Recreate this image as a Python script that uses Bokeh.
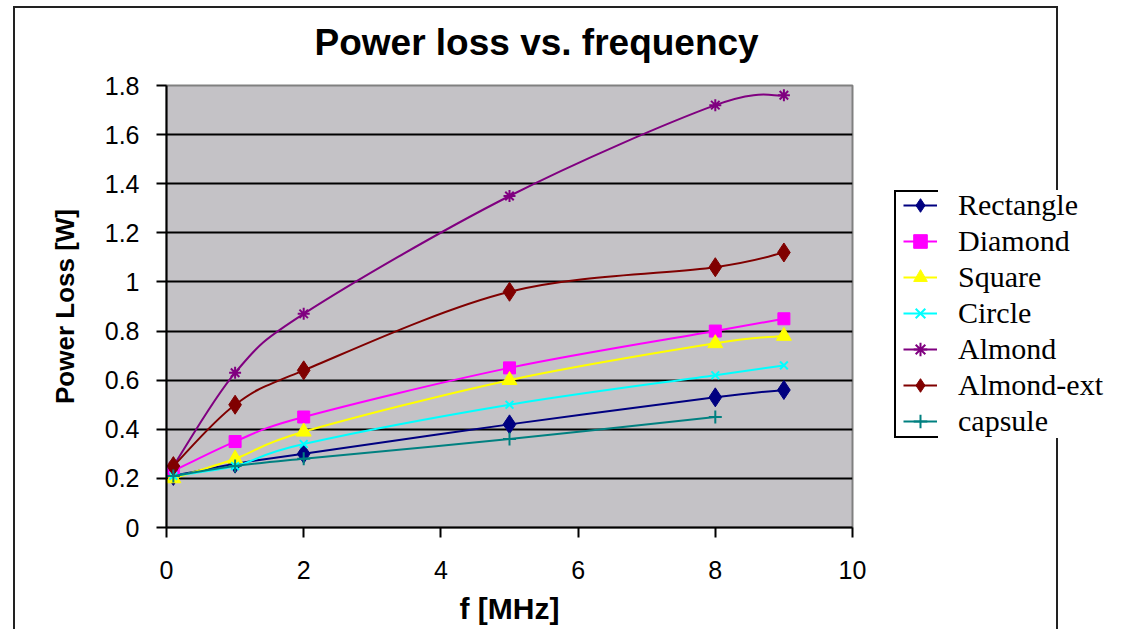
from bokeh.plotting import figure
from bokeh.models import (Range1d, FixedTicker, Legend, LegendItem,
                          ColumnDataSource, InlineStyleSheet)
from bokeh.embed import file_html
from bokeh.resources import INLINE

# ---- data ---------------------------------------------------------------
freq = [0.1, 1, 2, 5, 8, 9]
freq_capsule = [0.1, 1, 2, 5, 8]

rectangle = [0.21, 0.26, 0.30, 0.42, 0.53, 0.56]
diamond = [0.23, 0.35, 0.45, 0.65, 0.80, 0.85]
square = [0.20, 0.28, 0.39, 0.60, 0.75, 0.78]
circle = [0.21, 0.25, 0.34, 0.50, 0.62, 0.66]
almond = [0.25, 0.63, 0.87, 1.35, 1.72, 1.76]
almond_ext = [0.25, 0.50, 0.64, 0.96, 1.06, 1.12]
capsule = [0.21, 0.25, 0.28, 0.36, 0.45]

series_names = ["Rectangle", "Diamond", "Square", "Circle", "Almond",
                "Almond-ext", "capsule"]

xticks = [0, 2, 4, 6, 8, 10]
xtick_labels = ["0", "2", "4", "6", "8", "10"]
yticks = [0, 0.2, 0.4, 0.6, 0.8, 1.0, 1.2, 1.4, 1.6, 1.8]
ytick_labels = ["0", "0.2", "0.4", "0.6", "0.8", "1", "1.2", "1.4", "1.6", "1.8"]

# ---- styling per series ---------------------------------------------------
styles = [
    (freq, rectangle, "#000080", "diamond", 19),
    (freq, diamond, "#ff00ff", "square", 12),
    (freq, square, "#ffff00", "triangle", 15),
    (freq, circle, "#00ffff", "x", 11),
    (freq, almond, "#800080", "asterisk", 12),
    (freq, almond_ext, "#800000", "diamond", 19),
    (freq_capsule, capsule, "#008080", "cross", 13),
]


def smooth_segments(xs, ys):
    """Cubic Bezier segments through the points (Catmull-Rom style)."""
    n = len(xs)
    out = dict(x0=[], y0=[], x1=[], y1=[], cx0=[], cy0=[], cx1=[], cy1=[])
    for i in range(n - 1):
        a = i - 1 if i > 0 else i
        b = i + 2 if i + 2 < n else i + 1
        out["x0"].append(xs[i])
        out["y0"].append(ys[i])
        out["x1"].append(xs[i + 1])
        out["y1"].append(ys[i + 1])
        out["cx0"].append(xs[i] + (xs[i + 1] - xs[a]) / 6.0)
        out["cy0"].append(ys[i] + (ys[i + 1] - ys[a]) / 6.0)
        out["cx1"].append(xs[i + 1] - (xs[b] - xs[i]) / 6.0)
        out["cy1"].append(ys[i + 1] - (ys[b] - ys[i]) / 6.0)
    return out


SANS = "Liberation Sans"
SERIF = "Liberation Serif"

p = figure(frame_width=686, frame_height=442,
           x_range=Range1d(0, 10), y_range=Range1d(0, 1.8),
           output_backend="svg", toolbar_location=None,
           min_border_left=166, min_border_right=278,
           min_border_top=85, min_border_bottom=102)

p.background_fill_color = "#c4c2c6"
p.border_fill_color = "white"
p.outline_line_color = "#808080"
p.outline_line_width = 2

# title
p.title.text = "Power loss vs. frequency"
p.title.text_font = SANS
p.title.text_font_style = "bold"
p.title.text_font_size = "37px"
p.title.text_color = "black"
p.title.align = "left"
p.title.offset = 148
p.title.vertical_align = "top"
p.title.standoff = 42

# grid
p.xgrid.visible = False
p.ygrid.ticker = FixedTicker(ticks=yticks[1:-1])
p.ygrid.grid_line_color = "black"
p.ygrid.grid_line_width = 2

# axes
for ax in (p.xaxis[0], p.yaxis[0]):
    ax.axis_line_color = "black"
    ax.axis_line_width = 2
    ax.major_tick_line_color = "black"
    ax.major_tick_line_width = 2
    ax.major_tick_out = 10
    ax.major_tick_in = 0
    ax.minor_tick_line_color = None
    ax.major_label_text_font = SANS
    ax.major_label_text_font_size = "25px"
    ax.major_label_text_color = "black"
    ax.axis_label_text_font = SANS
    ax.axis_label_text_font_style = "bold"
    ax.axis_label_text_color = "black"

p.xaxis.ticker = FixedTicker(ticks=xticks)
p.xaxis.major_label_overrides = dict(zip(xticks, xtick_labels))
p.yaxis.ticker = FixedTicker(ticks=yticks)
p.yaxis.major_label_overrides = dict(zip(yticks, ytick_labels))
p.xaxis.axis_label = "f [MHz]"
p.yaxis.axis_label = "Power Loss [W]"
p.xaxis.axis_label_text_font_size = "30px"
p.yaxis.axis_label_text_font_size = "26px"
p.xaxis.major_label_standoff = 23
p.yaxis.major_label_standoff = 17
p.xaxis.axis_label_standoff = 10
p.yaxis.axis_label_standoff = 22

# series
items = []
for name, (xs, ys, color, marker, size) in zip(series_names, styles):
    seg = ColumnDataSource(smooth_segments(xs, ys))
    r_line = p.bezier(x0="x0", y0="y0", x1="x1", y1="y1",
                      cx0="cx0", cy0="cy0", cx1="cx1", cy1="cy1",
                      source=seg, line_color=color, line_width=2)
    if marker in ("x", "asterisk", "cross"):
        r_mark = p.scatter(xs, ys, marker=marker, size=size,
                           line_color=color, line_width=2)
    else:
        r_mark = p.scatter(xs, ys, marker=marker, size=size,
                           fill_color=color, line_color=color)
    items.append(LegendItem(label=name, renderers=[r_line, r_mark]))

legend = Legend(items=items, location=(51, 89), margin=0,
                background_fill_color="white", background_fill_alpha=1,
                border_line_alpha=0, padding=0, spacing=2,
                glyph_width=34, glyph_height=34, label_height=34,
                label_width=0, label_standoff=21,
                label_text_font=SERIF, label_text_font_size="30px",
                label_text_color="black")
p.add_layout(legend, "right")

# chart frame and legend box edges, drawn over the canvas
frame_css = """
:host { position: relative; }
:host::after {
  content: "";
  position: absolute;
  left: 0; top: 0; width: 1130px; height: 629px;
  pointer-events: none;
  z-index: 10;
  background:
    linear-gradient(#222, #222) 13px 6px / 1045px 2px no-repeat,
    linear-gradient(#222, #222) 13px 6px / 2px 623px no-repeat,
    linear-gradient(#222, #222) 1056px 6px / 2px 184px no-repeat,
    linear-gradient(#222, #222) 1056px 438px / 2px 191px no-repeat,
    linear-gradient(#000, #000) 894px 190px / 2px 248px no-repeat,
    linear-gradient(#000, #000) 894px 190px / 44px 2px no-repeat,
    linear-gradient(#000, #000) 894px 436px / 44px 2px no-repeat;
}
"""
p.stylesheets = [InlineStyleSheet(css=frame_css)]

open("out.html", "w").write(file_html(p, INLINE))
